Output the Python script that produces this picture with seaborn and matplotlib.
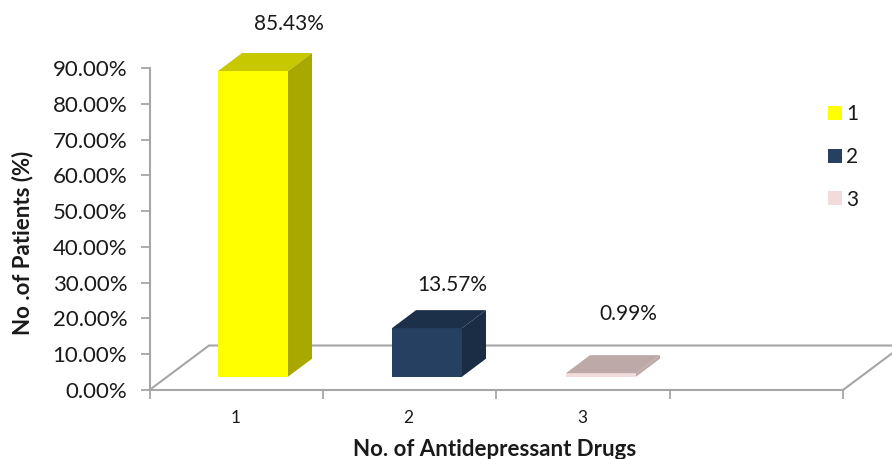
import matplotlib
matplotlib.use("Agg")
import matplotlib.pyplot as plt
from matplotlib.patches import Polygon
from matplotlib.lines import Line2D
import pandas as pd
import seaborn as sns

# Chart values
drug_counts = ["1", "2", "3"]
patient_share = [85.43, 13.57, 0.99]
y_ticks = [0, 10, 20, 30, 40, 50, 60, 70, 80, 90]

# Face colours of each bar
front_colours = ["#FFFF00", "#254061", "#F2DCDB"]
top_colours = ["#C8C800", "#1C304A", "#BCA9A8"]
side_colours = ["#A8A800", "#1A2D44", "#BCA9A8"]
AXIS_GREY = "#A6A6A6"
TEXT = "#1A1A1A"

W, H = 892, 459
LEFT, RIGHT, TOP, BOTTOM = 149.5, 843.0, 68.0, 390.0
SLOT = 174.0
FIRST_CENTRE = 253.0

sns.set_theme(style="white")
plt.rcParams["font.family"] = ["Lato", "DejaVu Sans"]

fig = plt.figure(figsize=(W / 100, H / 100), dpi=100)
ax = fig.add_axes([LEFT / W, 1 - BOTTOM / H, (RIGHT - LEFT) / W, (BOTTOM - TOP) / H])

df = pd.DataFrame({"drugs": drug_counts, "patients": patient_share})
sns.barplot(data=df, x="drugs", y="patients", hue="drugs", palette=front_colours,
            saturation=1, width=70 / SLOT, dodge=False, legend=False, ax=ax, zorder=3,
            edgecolor="none", linewidth=0)

ax.set_xlim((LEFT - FIRST_CENTRE) / SLOT, (RIGHT - FIRST_CENTRE) / SLOT)
ax.set_ylim(0, 90)

px_y = (BOTTOM - TOP) / 90
depth_x = 24 / SLOT
depth_y = 18 / px_y
floor_lift = 13.3 / px_y

# Floor of the pseudo-3D plot area
floor_back = 44.5 / px_y
floor_shift = 59.5 / SLOT
x0, x1 = ax.get_xlim()
ax.add_line(Line2D([x0, x0 + floor_shift, x1 + floor_shift, x1],
                   [0, floor_back, floor_back, 0],
                   color=AXIS_GREY, lw=1.5, clip_on=False, zorder=1))

# Lift each bar onto the floor and add its top and side faces
for patch, top_c, side_c in zip(ax.patches, top_colours, side_colours):
    patch.set_y(floor_lift)
    xl = patch.get_x()
    xr = xl + patch.get_width()
    yb = floor_lift
    yt = floor_lift + patch.get_height()
    ax.add_patch(Polygon([(xl, yt), (xr, yt), (xr + depth_x, yt + depth_y), (xl + depth_x, yt + depth_y)],
                         closed=True, fc=top_c, ec="none", clip_on=False, zorder=3))
    ax.add_patch(Polygon([(xr, yb), (xr + depth_x, yb + depth_y), (xr + depth_x, yt + depth_y), (xr, yt)],
                         closed=True, fc=side_c, ec="none", clip_on=False, zorder=3))

# Percentage labels, placed clear of each bar
label_shift = [(36, 47), (25, 43), (27, 59)]
for patch, value, shift in zip(ax.patches, patient_share, label_shift):
    ax.annotate(f"{value:.2f}%", xy=(patch.get_x() + patch.get_width() / 2, floor_lift + value),
                xytext=shift, textcoords="offset pixels", ha="center", va="center",
                fontsize=15, color=TEXT, annotation_clip=False)

# Axes
ax.set_yticks(y_ticks)
ax.set_yticklabels([f"{t:.2f}%" for t in y_ticks], fontsize=16, color=TEXT)
slot_edges = [x0 + (x1 - x0) * i / 4 for i in range(5)]
ax.set_xticks(slot_edges)
ax.set_xticklabels([])
ax.tick_params(axis="both", which="major", length=6.5, width=1.3, color=AXIS_GREY,
               bottom=True, left=True, pad=9.5)
for i, name in enumerate(drug_counts):
    ax.text(x0 + (x1 - x0) * (i + 0.5) / 4 - 1 / SLOT, -7.8, name, ha="center", va="center",
            fontsize=12.5, color=TEXT, clip_on=False)

sns.despine(ax=ax)
for side in ("left", "bottom"):
    ax.spines[side].set_color(AXIS_GREY)
    ax.spines[side].set_linewidth(1.5)

ax.set_xlabel("")
ax.set_ylabel("")
fig.text(494.5 / W, 1 - 449.5 / H, "No. of Antidepressant Drugs", ha="center", va="center",
         fontsize=16, fontweight="bold", color=TEXT)
fig.text(23 / W, 1 - 243 / H, "No .of Patients (%)", ha="center", va="center",
         rotation=90, fontsize=16, fontweight="bold", color=TEXT)

# Legend
handles = [plt.Rectangle((0, 0), 1, 1, fc=c, ec="none") for c in front_colours]
fig.legend(handles, drug_counts, loc="center left", frameon=False,
           bbox_to_anchor=(809 / W, 1 - 157 / H), fontsize=15,
           handlelength=0.67, handleheight=0.67, handletextpad=0.22,
           labelspacing=1.08, labelcolor=TEXT)

fig.savefig("out.png", dpi=100)
